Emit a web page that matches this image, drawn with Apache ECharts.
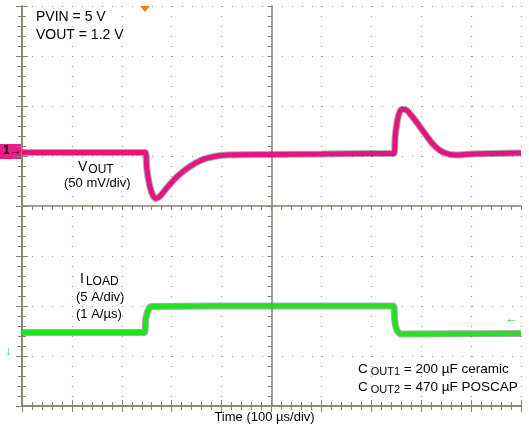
<!DOCTYPE html>
<html>
<head>
<meta charset="utf-8">
<script src="https://cdn.jsdelivr.net/npm/echarts@6/dist/echarts.min.js"></script>
<style>
  html, body { margin: 0; padding: 0; background: #fff; }
  #main { width: 529px; height: 434px; }
</style>
</head>
<body>
<div id="main"></div>
<script>
// traces in scope divisions: x 0..10, y 0..8 (from bottom)
var voutX = [0, 2.2, 2.47, 2.5, 2.56, 2.62, 2.68, 2.76, 2.9, 3.1, 3.35, 3.6, 3.85, 4.1, 5.0, 6.0, 7.0, 7.45, 7.48, 7.53, 7.6, 7.68, 7.78, 7.92, 8.08, 8.25, 8.45, 8.7, 9.0, 10];
var voutY = [5.07, 5.07, 5.07, 4.75, 4.4, 4.22, 4.15, 4.19, 4.36, 4.58, 4.78, 4.92, 4.99, 5.02, 5.03, 5.04, 5.05, 5.05, 5.4, 5.75, 5.93, 5.93, 5.84, 5.66, 5.44, 5.22, 5.07, 5.02, 5.04, 5.06];
var iloadX = [0, 2.45, 2.48, 2.55, 2.6, 5.0, 7.44, 7.47, 7.52, 7.6, 10];
var iloadY = [1.47, 1.47, 1.75, 1.96, 1.99, 2.0, 2.0, 1.7, 1.5, 1.44, 1.45];

function pairs(xs, ys) { return xs.map(function (x, i) { return [x, ys[i]]; }); }

var gridCol = '#a09a90', borderCol = '#8a8070';
var font = 'Arial, "Liberation Sans", sans-serif';
var chart = echarts.init(document.getElementById('main'));

function frameAxis(pos, isX) {
  return {
    gridIndex: 0, type: 'value', min: 0, max: isX ? 10 : 8, interval: 1, position: pos,
    axisLabel: { show: false },
    axisLine: { show: true, lineStyle: { color: borderCol, width: 1.5 } },
    axisTick: { show: true, inside: true, length: 6, lineStyle: { color: borderCol } },
    minorTick: { show: true, splitNumber: 5, length: 4, lineStyle: { color: borderCol } },
    splitLine: { show: false }
  };
}
var xa = [frameAxis('bottom', true), frameAxis('top', true)];
var ya = [frameAxis('left', false), frameAxis('right', false)];
xa[0].splitLine = { show: true, lineStyle: { color: gridCol, type: [1, 9], width: 1.2 } };
ya[0].splitLine = { show: true, lineStyle: { color: gridCol, type: [1, 9], width: 1.2 } };
// center cross
function centerAxis(lim) {
  return { gridIndex: 1, type: 'value', min: -lim, max: lim, interval: 1,
    axisLabel: { show: false }, axisLine: { onZero: true, lineStyle: { color: borderCol, width: 1.5 } },
    axisTick: { show: true, length: 4, lineStyle: { color: borderCol } },
    minorTick: { show: true, splitNumber: 5, length: 4, lineStyle: { color: borderCol } }, splitLine: { show: false } };
}
xa.push(centerAxis(5));
ya.push(centerAxis(4));

function trace(data, col) {
  return [
    { type: 'line', data: data, symbol: 'none', smooth: 0.25, z: 3, lineStyle: { color: '#333', width: 7, opacity: 0.4 } },
    { type: 'line', data: data, symbol: 'none', smooth: 0.25, z: 4, lineStyle: { color: col, width: 5 } }
  ];
}

chart.setOption({
  animation: false,
  grid: [
    { left: 22, right: 8, top: 6, bottom: 28 },
    { left: 22, right: 8, top: 6, bottom: 28 }
  ],
  xAxis: xa,
  yAxis: ya,
  series: trace(pairs(voutX, voutY), '#e4157c').concat(trace(pairs(iloadX, iloadY), '#26e026')),
  graphic: [
    { type: 'text', left: 36, top: 10, style: { text: 'PVIN = 5 V', font: '14px ' + font, fill: '#000' } },
    { type: 'text', left: 36, top: 28, style: { text: 'VOUT = 1.2 V', font: '14px ' + font, fill: '#000' } },
    { type: 'text', left: 78, top: 160, style: { text: '{a|V}{b|OUT}', rich: { a: { font: '14px ' + font, fill: '#000' }, b: { font: '12px ' + font, fill: '#000', padding: [6, 0, 0, 1] } } } },
    { type: 'text', left: 64, top: 177, style: { text: '(50 mV/div)', font: '13px ' + font, fill: '#000' } },
    { type: 'text', left: 80, top: 272, style: { text: '{a|I}{b|LOAD}', rich: { a: { font: '14px ' + font, fill: '#000' }, b: { font: '12px ' + font, fill: '#000', padding: [6, 0, 0, 2] } } } },
    { type: 'text', left: 76, top: 291, style: { text: '(5 A/div)', font: '13px ' + font, fill: '#000' } },
    { type: 'text', left: 76, top: 308, style: { text: '(1 A/µs)', font: '13px ' + font, fill: '#000' } },
    { type: 'text', left: 358, top: 362, style: { text: '{a|C}{b|OUT1}{a| = 200 µF ceramic}', rich: { a: { font: '13.5px ' + font, fill: '#000' }, b: { font: '11px ' + font, fill: '#000', padding: [6, 0, 0, 3] } } } },
    { type: 'text', left: 358, top: 380, style: { text: '{a|C}{b|OUT2}{a| = 470 µF POSCAP}', rich: { a: { font: '13.5px ' + font, fill: '#000' }, b: { font: '11px ' + font, fill: '#000', padding: [6, 0, 0, 3] } } } },
    { type: 'text', left: 'center', top: 411, style: { text: 'Time (100 µs/div)', font: '13px ' + font, fill: '#000' } },
    { type: 'rect', left: 0, top: 144, shape: { width: 21, height: 15 }, style: { fill: '#ee1a8a' } },
    { type: 'text', left: 3, top: 145, style: { text: '1→', font: 'bold 12px ' + font, fill: '#000' } },
    { type: 'polygon', shape: { points: [[140, 6], [150, 6], [145, 12]] }, style: { fill: '#f08010' } },
    { type: 'text', left: 505, top: 313, style: { text: '←', font: 'bold 13px ' + font, fill: '#22cc22' } },
    { type: 'text', left: 5, top: 346, style: { text: '↓', font: 'bold 12px ' + font, fill: '#22cc22' } }
  ]
});
</script>
</body>
</html>
